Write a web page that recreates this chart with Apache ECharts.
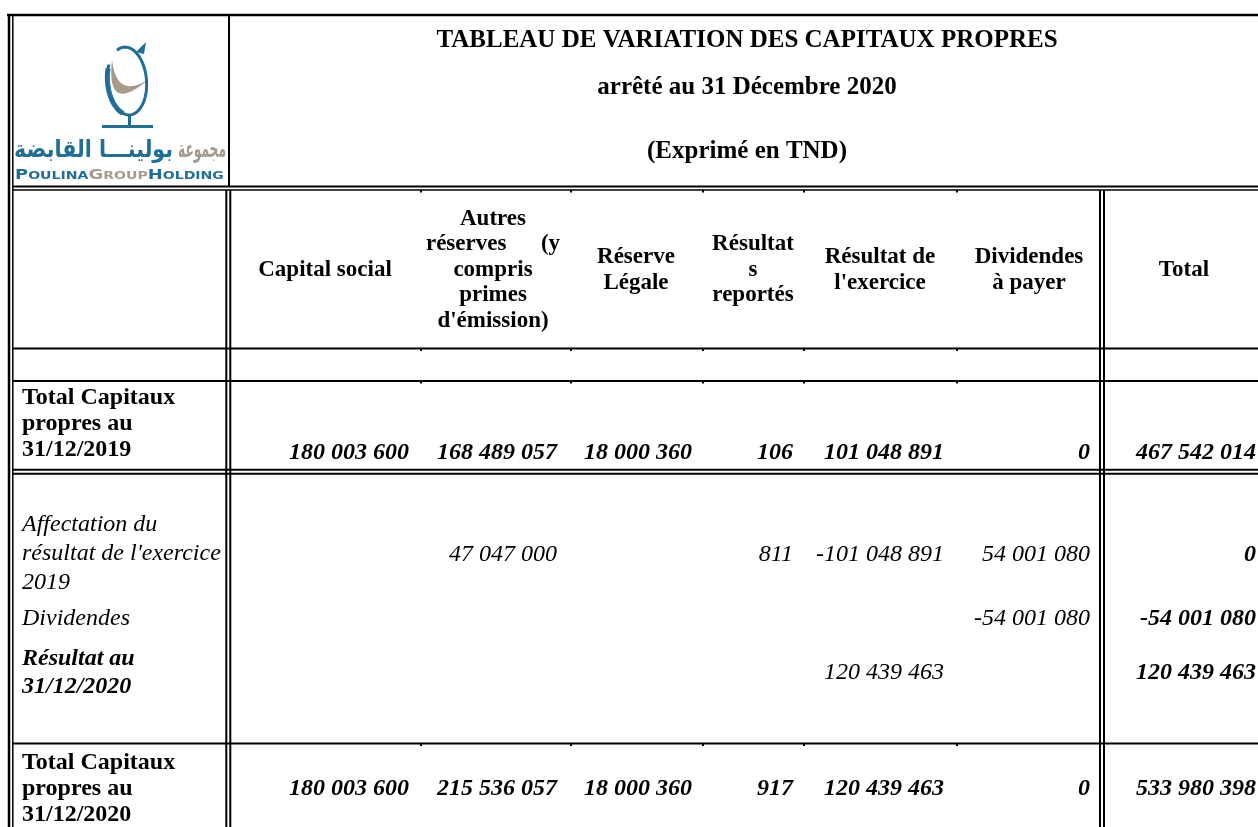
<!DOCTYPE html>
<html>
<head>
<meta charset="utf-8">
<script src="https://cdn.jsdelivr.net/npm/echarts@6/dist/echarts.min.js"></script>
<style>
  html, body { margin: 0; padding: 0; background: #fff; }
  #main { width: 1258px; height: 827px; }
</style>
</head>
<body>
<div id="main"></div>
<script>
// ---- données du tableau ----
var columns = ['Capital social', 'Autres\nréserves      (y\ncompris\nprimes\nd\'émission)', 'Réserve\nLégale',
  'Résultat\ns\nreportés', 'Résultat de\nl\'exercice', 'Dividendes\nà payer', 'Total'];
var rowLabels = ['Total Capitaux\npropres au\n31/12/2019', 'Affectation du\nrésultat de l\'exercice\n2019',
  'Dividendes', 'Résultat au\n31/12/2020', 'Total Capitaux\npropres au\n31/12/2020'];
var solde2019 = [180003600, 168489057, 18000360, 106, 101048891, 0, 467542014];
var affectation2019 = [null, 47047000, null, 811, -101048891, 54001080, 0];
var dividendes = [null, null, null, null, null, -54001080, -54001080];
var resultat2020 = [null, null, null, null, 120439463, null, 120439463];
var solde2020 = [180003600, 215536057, 18000360, 917, 120439463, 0, 533980398];
var titles = ['TABLEAU DE VARIATION DES CAPITAUX PROPRES', 'arrêté au 31 Décembre 2020', '(Exprimé en TND)'];

// ---- mise en page (positions en pixels du tableau) ----
var numRight = [409, 557, 692, 793, 944, 1090, 1256];
var headerX = [325, 493, 636, 753, 880, 1029, 1184];
var rowValueY = [453, 555, 619, 673, 789];
var rowLabelY = [424, 554, 619, 673, 789];
var rowLabelLH = [26, 29, 29, 28, 26];
var rowLabelFont = ['bold', 'italic', 'italic', 'italic bold', 'bold'];
var titleY = [41, 88, 152];
var tickX = [421, 571, 703, 804, 957];
// [x1, y1, x2, y2, epaisseur]
var rules = [
  [7, 15, 1258, 15, 2.5],
  [12, 186.5, 1258, 186.5, 2],
  [12, 190, 1258, 190, 1.5],
  [12, 348.5, 1258, 348.5, 2],
  [12, 381, 1258, 381, 2],
  [12, 469.7, 1258, 469.7, 2],
  [12, 473.7, 1258, 473.7, 2],
  [12, 743.5, 1258, 743.5, 2],
  [9, 14, 9, 827, 2.5],
  [12.8, 15, 12.8, 827, 1.5],
  [229, 15, 229, 186.5, 2],
  [226.3, 190, 226.3, 827, 2],
  [230.3, 190, 230.3, 827, 2],
  [1100, 190, 1100, 827, 2],
  [1104, 190, 1104, 827, 2]
];
var tickY = [191, 349.5, 382, 744.5];

var FONT = '"Liberation Serif", "Times New Roman", serif';
var BLUE = '#1f6e98', TAN = '#a59a8c';

function fmt(n) {
  var s = String(Math.abs(n)).replace(/\B(?=(\d{3})+(?!\d))/g, ' ');
  return (n < 0 ? '-' : '') + s;
}

// lignes du tableau + petites marques de colonnes
var ruleData = rules.slice();
tickX.forEach(function (x) {
  tickY.forEach(function (y) { ruleData.push([x, y - 1.5, x, y + 1.5, 2]); });
});

// cellules de valeurs
var valueRows = [solde2019, affectation2019, dividendes, resultat2020, solde2020];
var valueData = [];
valueRows.forEach(function (row, r) {
  row.forEach(function (v, c) {
    if (v === null) return;
    valueData.push([c, r, v]);
  });
});

var headerData = columns.map(function (t, i) { return [i, t]; });
var labelData = rowLabels.map(function (t, i) { return [i, t]; });
var titleData = titles.map(function (t, i) { return [i, t]; });

function txt(pt, text, font, align, lh) {
  return {
    type: 'text', x: pt[0], y: pt[1],
    style: {
      text: text, font: font, fill: '#000',
      align: align, textAlign: align, verticalAlign: 'middle', textVerticalAlign: 'middle',
      lineHeight: lh || 26
    }
  };
}

// ---- logo ----
function ellipsePts(cx, cy, rx, ry, rotDeg, a0, a1, n) {
  var pts = [], rot = rotDeg * Math.PI / 180;
  for (var i = 0; i <= n; i++) {
    var t = (a0 + (a1 - a0) * i / n) * Math.PI / 180;
    var ex = rx * Math.cos(t), ey = ry * Math.sin(t);
    pts.push([cx + ex * Math.cos(rot) - ey * Math.sin(rot), cy + ex * Math.sin(rot) + ey * Math.cos(rot)]);
  }
  return pts;
}
function quad(p0, c, p2, n) {
  var pts = [];
  for (var i = 0; i <= n; i++) {
    var t = i / n, u = 1 - t;
    pts.push([u * u * p0[0] + 2 * u * t * c[0] + t * t * p2[0], u * u * p0[1] + 2 * u * t * c[1] + t * t * p2[1]]);
  }
  return pts;
}
var crescent = quad([112, 60], [106, 116], [149, 79], 30).concat(quad([149, 79], [117, 100], [112, 60], 30));

// largeur du texte arabe du logo
var mctx = document.createElement('canvas').getContext('2d');
function fitScale(text, font, target) {
  mctx.font = font;
  return target / mctx.measureText(text).width;
}
var AR_FONT = 'bold 24px "DejaVu Sans"';
var arGroup = 'مجموعة', arName = 'بولينـــا القابضة';

var chart = echarts.init(document.getElementById('main'));
chart.setOption({
  animation: false,
  backgroundColor: '#fff',
  grid: { left: 0, right: 0, top: 0, bottom: 0 },
  xAxis: { type: 'value', min: 0, max: 1258, show: false },
  yAxis: { type: 'value', min: 0, max: 827, inverse: true, show: false },
  graphic: [
    { type: 'polygon', shape: { points: crescent }, style: { fill: TAN } },
    { type: 'polyline', shape: { points: ellipsePts(127, 81, 19.5, 34, -5, -112, 212, 80) },
      style: { stroke: BLUE, lineWidth: 3, fill: null } },
    { type: 'polyline', shape: { points: ellipsePts(127, 81, 19.5, 34, -5, 110, 205, 40) },
      style: { stroke: BLUE, lineWidth: 5, fill: null } },
    { type: 'polygon', shape: { points: [[136, 52], [146, 42], [144, 54]] }, style: { fill: BLUE } },
    { type: 'line', shape: { x1: 129.5, y1: 114, x2: 129.5, y2: 126 }, style: { stroke: BLUE, lineWidth: 3 } },
    { type: 'line', shape: { x1: 102, y1: 126.5, x2: 153, y2: 126.5 }, style: { stroke: BLUE, lineWidth: 3 } },
    { type: 'text', x: 226, y: 151, originX: 0, originY: 0, scaleX: fitScale(arGroup, AR_FONT, 48),
      style: { text: arGroup, font: AR_FONT, fill: TAN,
        align: 'right', textAlign: 'right', verticalAlign: 'middle', textVerticalAlign: 'middle' } },
    { type: 'text', x: 173, y: 151, originX: 0, originY: 0, scaleX: fitScale(arName, AR_FONT, 159),
      style: { text: arName, font: AR_FONT, fill: BLUE,
        align: 'right', textAlign: 'right', verticalAlign: 'middle', textVerticalAlign: 'middle' } },
    { type: 'text', x: 15, y: 174, scaleX: 1.28, originX: 0, originY: 0,
      style: {
        text: '{b|P}{bs|OULINA}{g|G}{gs|ROUP}{b|H}{bs|OLDING}',
        verticalAlign: 'middle', textVerticalAlign: 'middle',
        rich: {
          b: { fontSize: 14, fontWeight: 'bold', fontFamily: 'DejaVu Sans', fill: BLUE, textFill: BLUE, lineHeight: 16, verticalAlign: 'bottom' },
          bs: { fontSize: 11, fontWeight: 'bold', fontFamily: 'DejaVu Sans', fill: BLUE, textFill: BLUE, lineHeight: 16, verticalAlign: 'bottom' },
          g: { fontSize: 14, fontWeight: 'bold', fontFamily: 'DejaVu Sans', fill: TAN, textFill: TAN, lineHeight: 16, verticalAlign: 'bottom' },
          gs: { fontSize: 11, fontWeight: 'bold', fontFamily: 'DejaVu Sans', fill: TAN, textFill: TAN, lineHeight: 16, verticalAlign: 'bottom' }
        }
      } }
  ],
  series: [
    {
      type: 'custom', name: 'lignes', silent: true, data: ruleData,
      renderItem: function (params, api) {
        var a = api.coord([api.value(0), api.value(1)]);
        var b = api.coord([api.value(2), api.value(3)]);
        return { type: 'line', shape: { x1: a[0], y1: a[1], x2: b[0], y2: b[1] },
          style: { stroke: '#000', lineWidth: api.value(4) } };
      }
    },
    {
      type: 'custom', name: 'titre', silent: true, data: titleData,
      renderItem: function (params, api) {
        var i = api.value(0);
        return txt(api.coord([747, titleY[i]]), titles[i], 'bold 25px ' + FONT, 'center');
      }
    },
    {
      type: 'custom', name: 'entetes', silent: true, data: headerData,
      renderItem: function (params, api) {
        var i = api.value(0);
        return txt(api.coord([headerX[i], 270]), columns[i], 'bold 23px ' + FONT, 'center', 25.5);
      }
    },
    {
      type: 'custom', name: 'libelles', silent: true, data: labelData,
      renderItem: function (params, api) {
        var i = api.value(0);
        return txt(api.coord([22, rowLabelY[i]]), rowLabels[i], rowLabelFont[i] + ' 24px ' + FONT, 'left', rowLabelLH[i]);
      }
    },
    {
      type: 'custom', name: 'valeurs', silent: true, data: valueData,
      renderItem: function (params, api) {
        var c = api.value(0), r = api.value(1), v = api.value(2);
        var strong = (r === 0 || r === 4 || c === 6);
        return txt(api.coord([numRight[c], rowValueY[r]]), fmt(v),
          (strong ? 'italic bold ' : 'italic ') + '24px ' + FONT, 'right');
      }
    }
  ]
});
</script>
</body>
</html>
